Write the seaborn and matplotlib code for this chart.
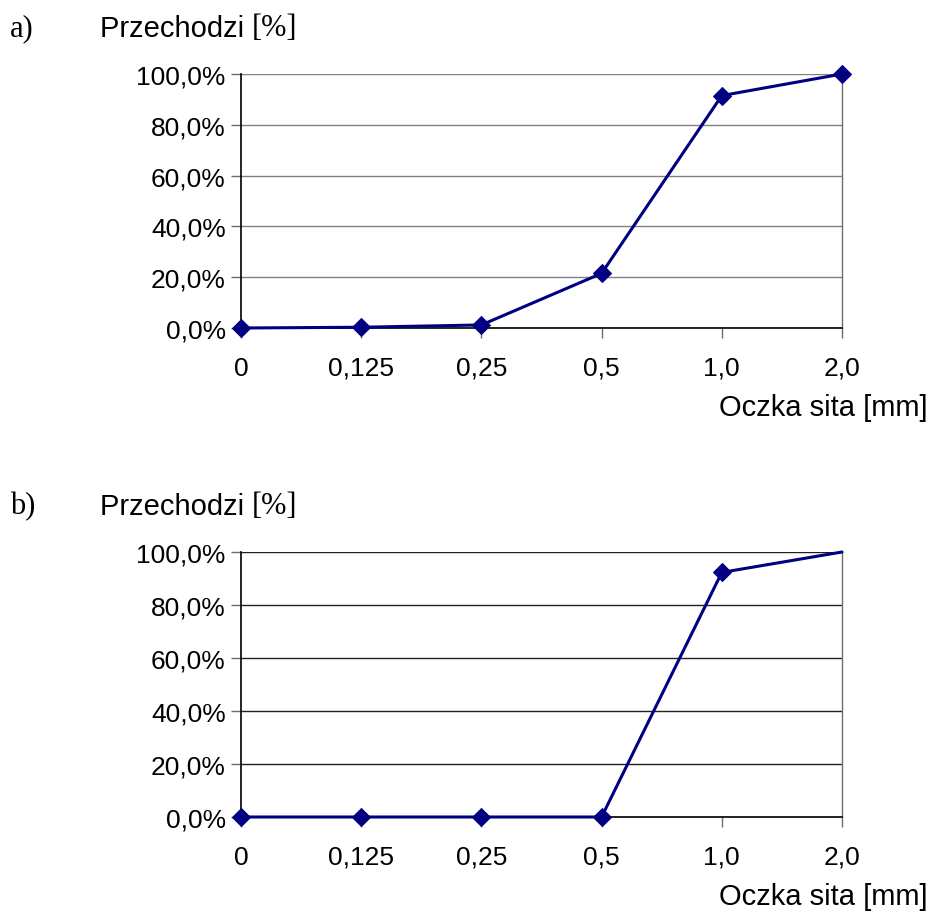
import matplotlib
matplotlib.use("Agg")
import matplotlib.pyplot as plt
import seaborn as sns
import pandas as pd
from matplotlib.ticker import FuncFormatter, MultipleLocator

# Data
sieves = ["0", "0,125", "0,25", "0,5", "1,0", "2,0"]
passing_a = [0.0, 0.3, 1.2, 21.5, 91.5, 100.0]
passing_b = [0.0, 0.0, 0.0, 0.0, 92.3, 100.0]

sns.set_theme(style="white")
plt.rcParams["font.family"] = ["Liberation Sans", "DejaVu Sans"]
plt.rcParams["text.color"] = "black"

fig = plt.figure(figsize=(9.32, 9.12), dpi=100)

W, H = 932, 912
panels = [
    ("a)", passing_a, (241, 75, 842, 329), list(range(6)), "#808080"),
    ("b)", passing_b, (241, 553, 842, 818), list(range(5)), "#202020"),
]


def pct(v, pos):
    return f"{v:.1f}%".replace(".", ",")


for tag, vals, (x0, y0, x1, y1), marks, gridc in panels:
    ax = fig.add_axes([x0 / W, 1 - y1 / H, (x1 - x0) / W, (y1 - y0) / H])
    df = pd.DataFrame({"x": range(len(sieves)), "y": vals})
    sns.lineplot(data=df, x="x", y="y", ax=ax, color="#000080", linewidth=2.2,
                 marker="D", markersize=9, markeredgecolor="#000080",
                 markevery=marks, sort=False, clip_on=False, zorder=5)
    ax.set_xlim(0, 5)
    ax.set_ylim(0, 100)
    ax.yaxis.set_major_locator(MultipleLocator(20))
    ax.yaxis.set_major_formatter(FuncFormatter(pct))
    ax.set_xticks(range(len(sieves)))
    ax.set_xticklabels(sieves)
    ax.set_xlabel("")
    ax.set_ylabel("")
    ax.grid(axis="y", color=gridc, linewidth=1)
    ax.grid(axis="x", visible=False)
    ax.set_axisbelow(True)
    for side in ["left", "bottom"]:
        ax.spines[side].set_color("black")
        ax.spines[side].set_linewidth(1.2)
    ax.spines["right"].set_color("#6e6e6e")
    ax.spines["right"].set_linewidth(1)
    ax.spines["top"].set_visible(False)
    ax.tick_params(axis="both", which="major", direction="out", length=7,
                   width=1, color="#6e6e6e", labelsize=19, labelcolor="black",
                   left=True, bottom=True)
    ax.tick_params(axis="y", pad=4)
    ax.tick_params(axis="x", pad=13)

    # panel tag and axis titles
    ty = 1 - (y0 - 46) / H
    fig.text(10 / W, ty, tag, family="Liberation Serif", fontsize=22,
             va="center", ha="left", color="black")
    t = fig.text(100 / W, ty, "Przechodzi ", fontsize=21,
                 va="center", ha="left", color="black")
    fig.canvas.draw()
    bb = t.get_window_extent()
    fig.text(bb.x1 / W, ty, "[%]", family="Liberation Serif",
             fontsize=22, va="center", ha="left", color="black")
    fig.text(928 / W, 1 - (y1 + 79) / H, "Oczka sita [mm]", fontsize=21,
             va="center", ha="right", color="black")

fig.savefig("out.png", dpi=100, facecolor="white")
